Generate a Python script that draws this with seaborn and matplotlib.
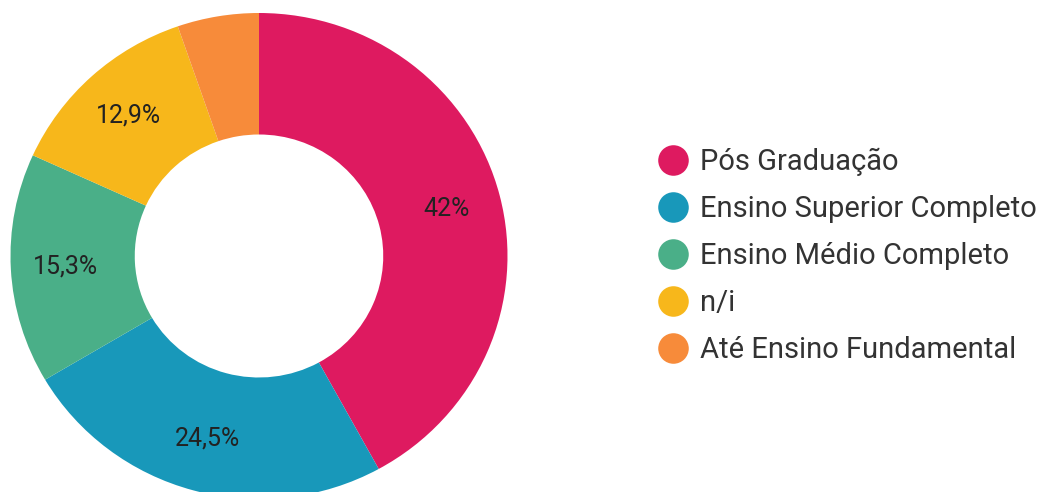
import matplotlib

matplotlib.use("Agg")

import matplotlib.pyplot as plt
import seaborn as sns
from matplotlib.lines import Line2D

categories = [
    "Pós Graduação",
    "Ensino Superior Completo",
    "Ensino Médio Completo",
    "n/i",
    "Até Ensino Fundamental",
]
shares = [42.0, 24.5, 15.3, 12.9, 5.3]
slice_colors = ["#DE1A60", "#1898BA", "#4AAF88", "#F7B71B", "#F78B3A"]


def fmt_pct(p):
    # Google Charts hides the label on the tiny slice
    if p < 6:
        return ""
    txt = f"{p:.1f}".replace(".", ",")
    if txt.endswith(",0"):
        txt = txt[:-2]
    return txt + "%"


sns.set_theme(style="white")
plt.rcParams["font.family"] = ["Roboto", "DejaVu Sans"]

palette = sns.color_palette(slice_colors)

fig = plt.figure(figsize=(10.43, 4.92), dpi=100)
ax = fig.add_axes([10.5 / 1043, -7 / 492, 497 / 1043, 486 / 492])

wedges, _, autotexts = ax.pie(
    shares,
    colors=palette,
    startangle=90,
    counterclock=False,
    radius=1.0,
    autopct=fmt_pct,
    pctdistance=0.78,
    wedgeprops=dict(width=0.5, edgecolor="none"),
    textprops=dict(fontsize=18, color="#222222"),
)
ax.set_aspect("auto")
ax.set_xlim(-1, 1)
ax.set_ylim(-1, 1)
ax.axis("off")

handles = [
    Line2D([], [], marker="o", linestyle="none", markersize=22,
           markerfacecolor=c, markeredgecolor="none")
    for c in palette
]
fig.legend(
    handles,
    categories,
    loc="center left",
    bbox_to_anchor=(647 / 1043, 1 - 256 / 492),
    frameon=False,
    fontsize=21,
    labelcolor="#333333",
    handlelength=1.0,
    handletextpad=0.41,
    labelspacing=0.65,
    borderaxespad=0,
)

fig.savefig("out.png", dpi=100)
